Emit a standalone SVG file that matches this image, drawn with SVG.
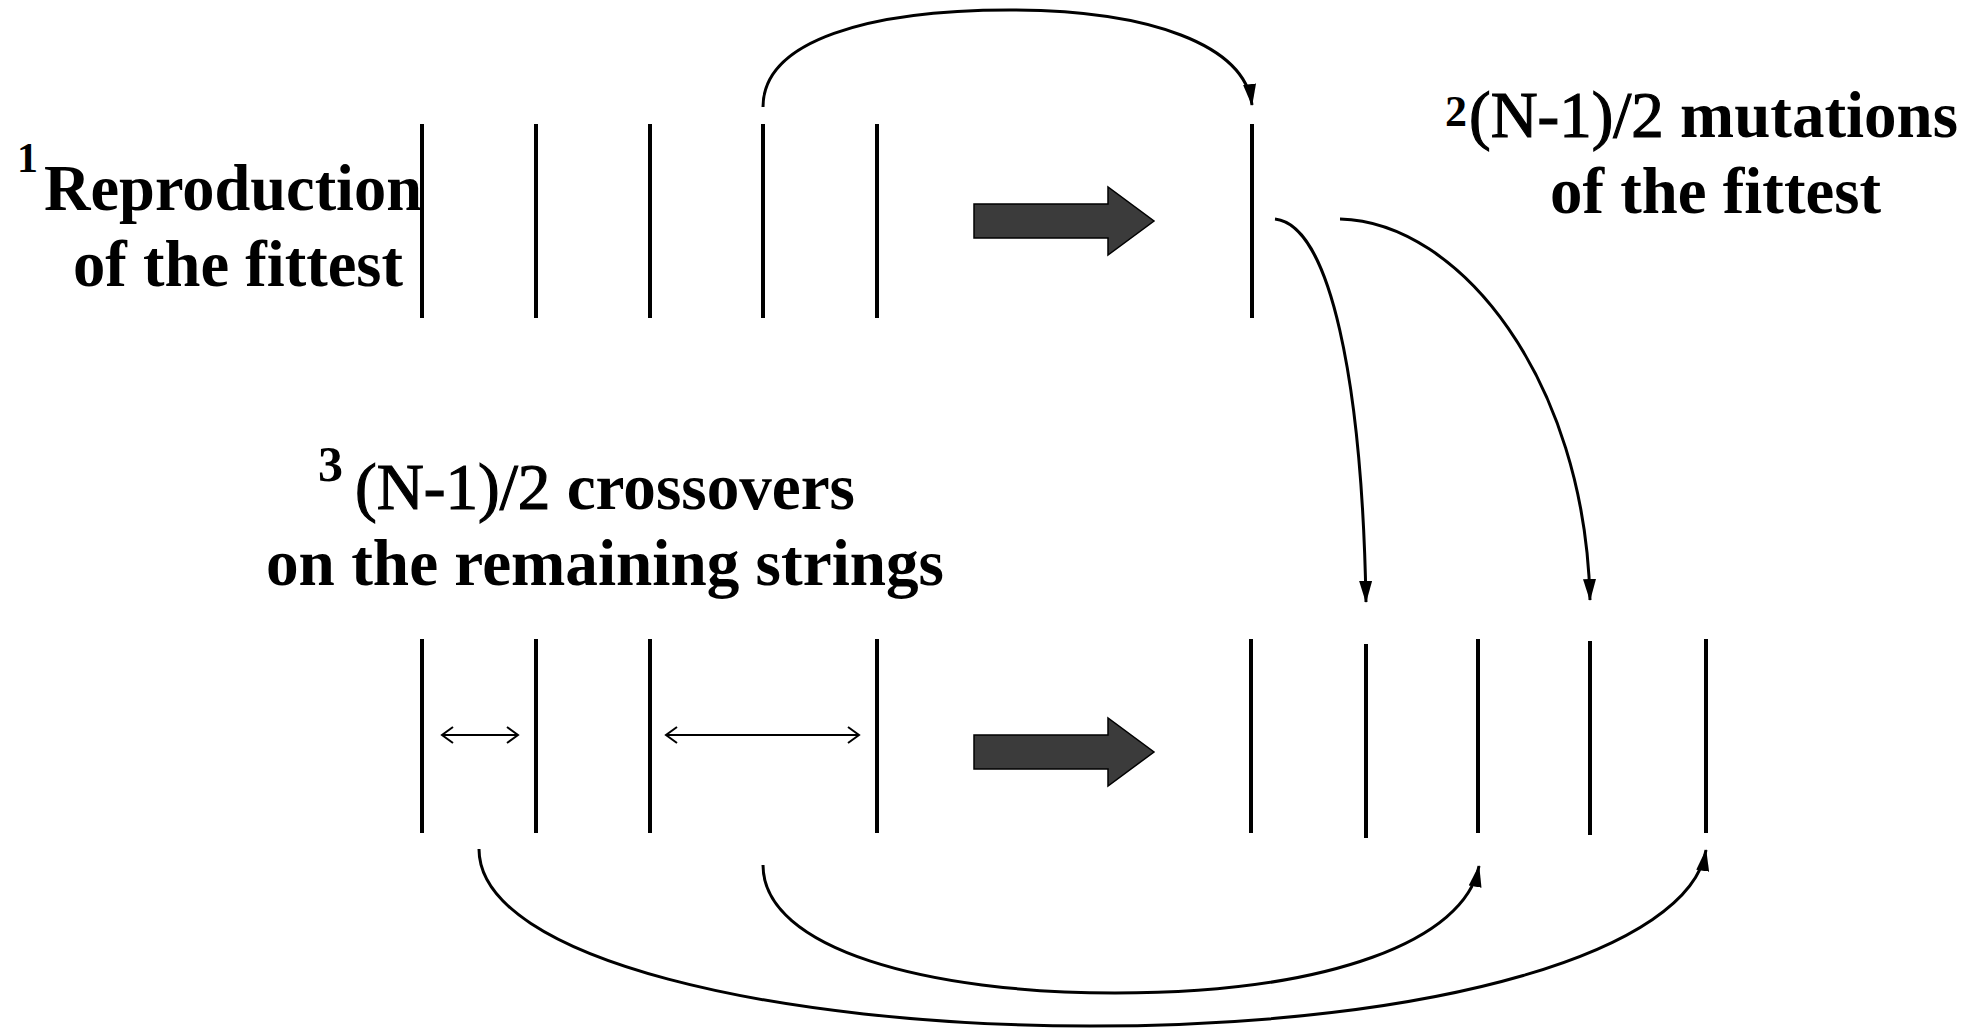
<svg xmlns="http://www.w3.org/2000/svg" width="1986" height="1029" viewBox="0 0 1986 1029">
<style>
.lbl{font-family:"Liberation Serif","Times New Roman",serif;font-weight:bold;font-size:66px;fill:#000}
.nb{font-weight:normal;stroke:#000;stroke-width:1.2}
.sup{font-family:"Liberation Serif","Times New Roman",serif;font-weight:bold;fill:#000}
.str{stroke:#000;stroke-width:4;fill:none}
.con{stroke:#000;stroke-width:3;fill:none}
.dbl{stroke:#000;stroke-width:2;fill:none}
.blk{fill:#3b3b3b;stroke:#000;stroke-width:1.5}
</style>
<defs>
<marker id="ah" markerUnits="userSpaceOnUse" markerWidth="22" markerHeight="14" viewBox="0 0 22 14" refX="21" refY="7" orient="auto">
<path d="M0,0.5 L22,7 L0,13.5 Z" fill="#000"/>
</marker>
<marker id="vh" markerUnits="userSpaceOnUse" markerWidth="14" markerHeight="20" viewBox="0 0 14 20" refX="12" refY="10" orient="auto-start-reverse">
<path d="M1,2 L12,10 L1,18" fill="none" stroke="#000" stroke-width="2"/>
</marker>
</defs>

<g id="label-reproduction">
<text class="sup" x="17" y="172" font-size="42">1</text>
<text class="lbl" x="44" y="210" textLength="378" lengthAdjust="spacingAndGlyphs">Reproduction</text>
<text class="lbl" x="73" y="286" textLength="330" lengthAdjust="spacingAndGlyphs">of the fittest</text>
</g>
<g id="label-mutations">
<text class="sup" x="1445" y="126" font-size="44">2</text>
<text class="lbl" x="1469" y="137" textLength="489" lengthAdjust="spacingAndGlyphs"><tspan class="nb">(N-1)/2</tspan> mutations</text>
<text class="lbl" x="1550" y="213" textLength="331" lengthAdjust="spacingAndGlyphs">of the fittest</text>
</g>
<g id="label-crossovers">
<text class="sup" x="318" y="481" font-size="50">3</text>
<text class="lbl" x="355" y="509" textLength="500" lengthAdjust="spacingAndGlyphs"><tspan class="nb">(N-1)/2</tspan> crossovers</text>
<text class="lbl" x="266" y="585" textLength="678" lengthAdjust="spacingAndGlyphs">on the remaining strings</text>
</g>

<g id="population-top">
<line class="str" x1="422" y1="124" x2="422" y2="318"/>
<line class="str" x1="536" y1="124" x2="536" y2="318"/>
<line class="str" x1="650" y1="124" x2="650" y2="318"/>
<line class="str" x1="763" y1="124" x2="763" y2="318"/>
<line class="str" x1="877" y1="124" x2="877" y2="318"/>
</g>
<g id="fittest-top">
<line class="str" x1="1252" y1="124" x2="1252" y2="318"/>
</g>
<g id="population-bottom">
<line class="str" x1="422" y1="639" x2="422" y2="833"/>
<line class="str" x1="536" y1="639" x2="536" y2="833"/>
<line class="str" x1="650" y1="639" x2="650" y2="833"/>
<line class="str" x1="877" y1="639" x2="877" y2="833"/>
</g>
<g id="new-population">
<line class="str" x1="1251" y1="639" x2="1251" y2="833"/>
<line class="str" x1="1366" y1="644" x2="1366" y2="838"/>
<line class="str" x1="1478" y1="639" x2="1478" y2="833"/>
<line class="str" x1="1590" y1="641" x2="1590" y2="835"/>
<line class="str" x1="1706" y1="639" x2="1706" y2="833"/>
</g>
<g id="block-arrow-top">
<polygon class="blk" points="974,204 1108,204 1108,187 1154,221 1108,255 1108,238 974,238"/>
</g>
<g id="block-arrow-bottom">
<polygon class="blk" points="974,735 1108,735 1108,718 1154,752 1108,786 1108,769 974,769"/>
</g>

<g id="connectors">
<path class="con" marker-end="url(#ah)" d="M763,107 C763,40 870,10 1010,10 C1150,10 1245,45 1252,105"/>
<path class="con" marker-end="url(#ah)" d="M1275,219 C1330,225 1362,380 1366,602"/>
<path class="con" marker-end="url(#ah)" d="M1340,219 C1460,222 1585,380 1590,600"/>
<path class="con" marker-end="url(#ah)" d="M763,865 C763,950 930,993 1115,993 C1330,993 1465,940 1479,866"/>
<path class="con" marker-end="url(#ah)" d="M479,849 C479,960 780,1026 1090,1026 C1440,1026 1690,950 1706,850"/>
<line class="dbl" x1="442" y1="735" x2="518" y2="735" marker-start="url(#vh)" marker-end="url(#vh)"/>
<line class="dbl" x1="666" y1="735" x2="859" y2="735" marker-start="url(#vh)" marker-end="url(#vh)"/>
</g>
</svg>
